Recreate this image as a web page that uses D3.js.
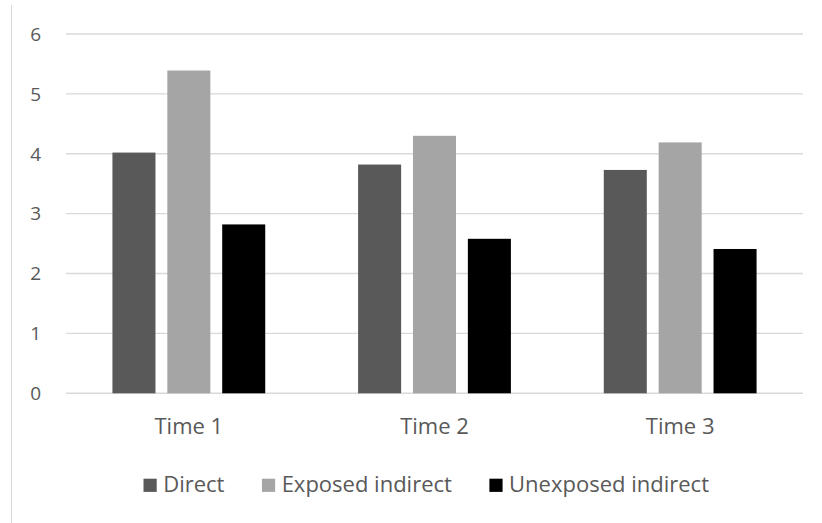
<!DOCTYPE html>
<html>
<head>
<meta charset="utf-8">
<script src="https://cdn.jsdelivr.net/npm/d3@7"></script>
<style>
  html, body { margin: 0; padding: 0; background: #ffffff; }
  svg { display: block; }
  text { font-family: "Open Sans", "Liberation Sans", sans-serif; fill: #595959; }
</style>
</head>
<body>
<svg id="chart" width="822" height="523"></svg>
<script>
const categories = ["Time 1", "Time 2", "Time 3"];
const seriesNames = ["Direct", "Exposed indirect", "Unexposed indirect"];
const direct = [4.02, 3.82, 3.73];
const exposedIndirect = [5.39, 4.30, 4.19];
const unexposedIndirect = [2.82, 2.58, 2.41];
const yTicks = [0, 1, 2, 3, 4, 5, 6];
const colors = ["#595959", "#a5a5a5", "#000000"];

const seriesValues = [direct, exposedIndirect, unexposedIndirect];

const svg = d3.select("#chart");
const W = 822, H = 523;
const plot = { left: 66, right: 803, top: 34, bottom: 393.3 };

// chart border (left edge visible)
svg.append("line")
  .attr("x1", 11.5).attr("x2", 11.5)
  .attr("y1", 5).attr("y2", H)
  .attr("stroke", "#d9d9d9").attr("stroke-width", 1);

const y = d3.scaleLinear().domain([0, 6]).range([plot.bottom, plot.top]);
const x0 = d3.scaleBand().domain(categories).range([plot.left, plot.right])
  .paddingInner(0.378).paddingOuter(0.189);
const x1 = d3.scaleBand().domain(seriesNames).range([0, x0.bandwidth()])
  .paddingInner(0.216).paddingOuter(0);

// gridlines
svg.append("g").selectAll("line").data(yTicks).join("line")
  .attr("x1", plot.left).attr("x2", plot.right)
  .attr("y1", d => y(d)).attr("y2", d => y(d))
  .attr("stroke", "#d9d9d9").attr("stroke-width", 1.4);

// y labels
svg.append("g").selectAll("text").data(yTicks).join("text")
  .attr("x", 41).attr("y", d => y(d))
  .attr("dy", "0.36em")
  .attr("text-anchor", "end")
  .attr("font-size", 19)
  .text(d => d);

// bars
const groups = svg.append("g").selectAll("g").data(categories).join("g")
  .attr("transform", c => `translate(${x0(c)},0)`);
groups.selectAll("rect")
  .data((c, ci) => seriesNames.map((s, si) => ({ s, si, v: seriesValues[si][ci] })))
  .join("rect")
  .attr("x", d => x1(d.s))
  .attr("width", x1.bandwidth())
  .attr("y", d => y(d.v))
  .attr("height", d => y(0) - y(d.v))
  .attr("fill", d => colors[d.si]);

// x labels
svg.append("g").selectAll("text").data(categories).join("text")
  .attr("x", c => x0(c) + x0.bandwidth() / 2)
  .attr("y", 433.5)
  .attr("text-anchor", "middle")
  .attr("font-size", 22)
  .text(c => c);

// legend
const legend = svg.append("g");
let lx = 143.5;
const sq = 13.2;
seriesNames.forEach((name, i) => {
  legend.append("rect")
    .attr("x", lx).attr("y", 478.7)
    .attr("width", sq).attr("height", sq)
    .attr("fill", colors[i]);
  const t = legend.append("text")
    .attr("x", lx + sq + 6.5)
    .attr("y", 491.7)
    .attr("font-size", 22)
    .text(name);
  const w = t.node().getComputedTextLength();
  lx = lx + sq + 6.5 + w + 37.5;
});
</script>
</body>
</html>
